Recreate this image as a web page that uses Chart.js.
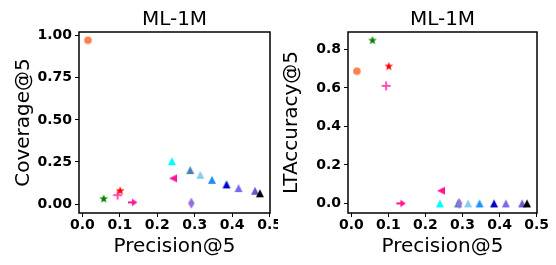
<!DOCTYPE html>
<html lang="en">
<head>
  <meta charset="UTF-8" />
  <title>ML-1M precision vs coverage / LT accuracy</title>
  <script src="https://cdn.jsdelivr.net/npm/chart.js"></script>
  <style>
    html, body { margin: 0; padding: 0; background: #fff; }
    .wrap { position: absolute; top: 0; width: 278px; height: 265px; }
  </style>
</head>
<body>

<div class="wrap" style="left: 0;"><canvas id="coverageChart" width="278" height="265"></canvas></div>
<div class="wrap" style="left: 278px;"><canvas id="ltaChart" width="278" height="265"></canvas></div>

<script>
  // data (one point per method)
  const methods = ["m1", "m2", "m3", "m4", "m5", "m6", "m7", "m8", "m9", "m10", "m11", "m12", "m13", "m14", "m15"];
  const precision = [0.015, 0.057, 0.094, 0.101, 0.135, 0.242, 0.239, 0.288, 0.291, 0.315, 0.346, 0.385, 0.417, 0.461, 0.474];
  const coverage  = [0.973, 0.031, 0.053, 0.079, 0.010, 0.153, 0.255, 0.202, 0.005, 0.174, 0.144, 0.117, 0.095, 0.079, 0.064];
  const ltAccuracy = [0.687, 0.847, 0.611, 0.712, 0.000, 0.066, 0.000, 0.000, 0.000, 0.000, 0.000, 0.000, 0.000, 0.000, 0.000];
  const markerShapes = ["circle", "star", "plus", "star", "arrow", "left", "up", "up", "diamond", "up", "up", "up", "up", "up", "up"];
  const markerColors = ["#ff7f50", "#008000", "#ff50b0", "#ff0000", "#ff1493", "#ff1493", "#00ffff", "#4682b4",
                        "#9370db", "#87ceeb", "#1e90ff", "#0000cd", "#7b68ee", "#6a5acd", "#000000"];

  const xTicks = [0.0, 0.1, 0.2, 0.3, 0.4, 0.5];
  const covTicks = [0.0, 0.25, 0.5, 0.75, 1.0];
  const ltaTicks = [0.0, 0.2, 0.4, 0.6, 0.8];

  const FONT = "'DejaVu Sans', sans-serif";

  // small canvases used as point styles (matplotlib-like markers)
  function makeMarker(shape, color) {
    const c = document.createElement("canvas");
    c.width = 14; c.height = 14;
    const g = c.getContext("2d");
    g.translate(7, 7);
    g.fillStyle = color;
    g.strokeStyle = color;
    g.beginPath();
    if (shape === "circle") {
      g.arc(0, 0, 3.8, 0, Math.PI * 2);
      g.fill();
    } else if (shape === "star") {
      for (let i = 0; i < 10; i++) {
        const r = i % 2 === 0 ? 4.6 : 1.9;
        const a = -Math.PI / 2 + i * Math.PI / 5;
        g.lineTo(r * Math.cos(a), r * Math.sin(a));
      }
      g.closePath();
      g.fill();
    } else if (shape === "plus") {
      g.fillRect(-4.5, -1, 9, 2);
      g.fillRect(-1, -4.5, 2, 9);
    } else if (shape === "arrow") {
      g.fillRect(-5, -1, 5, 2);
      g.moveTo(-1, -3.8);
      g.lineTo(4.5, 0);
      g.lineTo(-1, 3.8);
      g.closePath();
      g.fill();
    } else if (shape === "left") {
      g.moveTo(-4, 0);
      g.lineTo(4, -4);
      g.lineTo(4, 4);
      g.closePath();
      g.fill();
    } else if (shape === "up") {
      g.moveTo(0, -4);
      g.lineTo(4, 4);
      g.lineTo(-4, 4);
      g.closePath();
      g.fill();
    } else if (shape === "diamond") {
      g.moveTo(0, -5.5);
      g.lineTo(3.3, 0);
      g.lineTo(0, 5.5);
      g.lineTo(-3.3, 0);
      g.closePath();
      g.fill();
    }
    return c;
  }

  const markers = markerShapes.map((s, i) => makeMarker(s, markerColors[i]));

  // black frame around the plot area, drawn over the markers
  const framePlugin = {
    id: "frame",
    afterDatasetsDraw(chart) {
      const a = chart.chartArea;
      const ctx = chart.ctx;
      ctx.save();
      ctx.strokeStyle = "#000";
      ctx.lineWidth = 1.5;
      ctx.strokeRect(a.left, a.top, a.right - a.left, a.bottom - a.top);
      ctx.restore();
    }
  };

  function drawPanel(canvasId, yValues, yTicks, yDigits, yMin, yMax, yTitle, yWidth, padRight, yTitlePad) {
    const ctx = document.getElementById(canvasId).getContext("2d");
    return new Chart(ctx, {
      type: "scatter",
      data: {
        labels: methods,
        datasets: [{
          data: precision.map((p, i) => ({ x: p, y: yValues[i] })),
          pointStyle: markers,
          pointRadius: 5
        }]
      },
      plugins: [framePlugin],
      options: {
        responsive: false,
        animation: false,
        events: [],
        layout: { padding: { left: 0, right: padRight, top: 0, bottom: 0 } },
        plugins: {
          legend: { display: false },
          tooltip: { enabled: false },
          title: {
            display: true,
            text: "ML-1M",
            fullSize: false,
            color: "#000",
            font: { family: FONT, size: 20, weight: "normal" },
            padding: { top: 8, bottom: 0 }
          }
        },
        scales: {
          x: {
            type: "linear",
            min: -0.009,
            max: 0.501,
            afterBuildTicks: s => { s.ticks = xTicks.map(v => ({ value: v })); },
            afterFit: s => { s.height = 52; s.paddingLeft = 0; s.paddingRight = 0; },
            ticks: {
              color: "#000",
              padding: 0,
              maxRotation: 0,
              autoSkip: false,
              font: { family: FONT, size: 14, weight: "bold" },
              callback: v => Number(v).toFixed(1)
            },
            grid: { drawOnChartArea: false, drawTicks: true, tickLength: 4, color: "#000", lineWidth: 1 },
            border: { display: false },
            title: {
              display: true,
              text: "Precision@5",
              color: "#000",
              font: { family: FONT, size: 20 },
              padding: { top: 0, bottom: 6 }
            }
          },
          y: {
            type: "linear",
            min: yMin,
            max: yMax,
            afterBuildTicks: s => { s.ticks = yTicks.map(v => ({ value: v })); },
            afterFit: s => { s.width = yWidth; s.paddingTop = 0; s.paddingBottom = 0; },
            ticks: {
              color: "#000",
              padding: 3,
              autoSkip: false,
              font: { family: FONT, size: 14, weight: "bold" },
              callback: v => Number(v).toFixed(yDigits)
            },
            grid: { drawOnChartArea: false, drawTicks: true, tickLength: 4, color: "#000", lineWidth: 1 },
            border: { display: false },
            title: {
              display: true,
              text: yTitle,
              color: "#000",
              font: { family: FONT, size: 20 },
              padding: { top: yTitlePad, bottom: 0 }
            }
          }
        }
      }
    });
  }

  drawPanel("coverageChart", coverage, covTicks, 2, -0.053, 1.022, "Coverage@5", 79, 8, 12);
  drawPanel("ltaChart", ltAccuracy, ltaTicks, 1, -0.05, 0.891, "LTAccuracy@5", 70, 19, 2);
</script>
</body>
</html>
